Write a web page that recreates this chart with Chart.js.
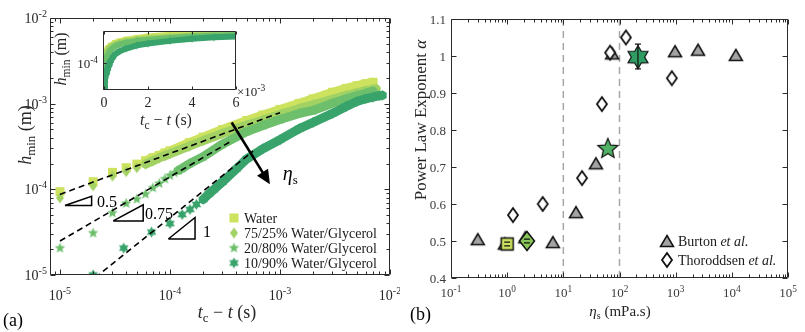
<!DOCTYPE html>
<html>
<head>
<meta charset="utf-8">
<script src="https://cdn.jsdelivr.net/npm/chart.js@4.4.1/dist/chart.umd.min.js"></script>
<style>
  body { margin: 0; background: #fff; width: 805px; height: 332px; position: relative; overflow: hidden; }
  canvas { position: absolute; }
  #main { left: 0; top: 0; }
  #inset { left: 50px; top: 10px; }
  #right { left: 400px; top: 0; }
</style>
</head>
<body>
<canvas id="main" width="400" height="332"></canvas>
<canvas id="inset" width="230" height="125"></canvas>
<canvas id="right" width="405" height="332"></canvas>
<script>
// ---------- panel (a): h_min vs t_c - t ----------
const tWater = [1e-5, 2e-5, 3e-5, 4e-5, 5e-5, 6e-5, 7e-5, 8e-5, 9e-5, 1e-4, 1.5e-4, 2e-4, 3e-4, 5e-4, 7e-4, 1e-3, 1.5e-3, 2e-3, 3e-3, 4e-3, 5e-3, 6e-3, 7e-3];
const hWater = [9.4e-5, 1.23e-4, 1.58e-4, 1.79e-4, 1.97e-4, 2.16e-4, 2.34e-4, 2.49e-4, 2.66e-4, 2.82e-4, 3.51e-4, 4.07e-4, 4.99e-4, 6.37e-4, 7.38e-4, 8.57e-4, 1.01e-3, 1.14e-3, 1.36e-3, 1.51e-3, 1.62e-3, 1.71e-3, 1.78e-3];

const t7525 = [1e-5, 2e-5, 3e-5, 4e-5, 5e-5, 6e-5, 7e-5, 8e-5, 9e-5, 1e-4, 1.5e-4, 2e-4, 3e-4, 5e-4, 7e-4, 1e-3, 1.5e-3, 2e-3, 3e-3, 4e-3, 5e-3, 6e-3, 7e-3, 7.5e-3];
const h7525 = [7.96e-5, 1.10e-4, 1.43e-4, 1.61e-4, 1.79e-4, 1.97e-4, 2.15e-4, 2.33e-4, 2.47e-4, 2.6e-4, 3.19e-4, 3.7e-4, 4.48e-4, 5.63e-4, 6.45e-4, 7.48e-4, 8.8e-4, 9.68e-4, 1.12e-3, 1.25e-3, 1.34e-3, 1.42e-3, 1.47e-3, 1.49e-3];

const t2080 = [1e-5, 2e-5, 3e-5, 4e-5, 5e-5, 6e-5, 7e-5, 8e-5, 9e-5, 1e-4, 1.1e-4, 1.2e-4, 1.3e-4, 1.5e-4, 2e-4, 3e-4, 5e-4, 7e-4, 1e-3, 1.5e-3, 2e-3, 3e-3, 4e-3, 5e-3, 6e-3, 7e-3];
const h2080 = [2.06e-5, 3.09e-5, 5.31e-5, 6.85e-5, 7.69e-5, 8.81e-5, 1.04e-4, 1.17e-4, 1.32e-4, 1.45e-4, 1.56e-4, 1.67e-4, 1.77e-4, 1.99e-4, 2.4e-4, 3.37e-4, 4.72e-4, 5.56e-4, 6.53e-4, 7.69e-4, 8.34e-4, 1.01e-3, 1.14e-3, 1.24e-3, 1.32e-3, 1.40e-3];

const t1090 = [2e-5, 3.8e-5, 6.8e-5, 1e-4, 1.29e-4, 1.52e-4, 1.74e-4, 2e-4, 2.25e-4, 2.5e-4, 3e-4, 4e-4, 5e-4, 7e-4, 1e-3, 1.5e-3, 2e-3, 3e-3, 4e-3, 5e-3, 6e-3, 7e-3, 8e-3, 8.5e-3];
const h1090 = [1.0e-5, 2.06e-5, 3.17e-5, 3.98e-5, 5.08e-5, 5.82e-5, 6.67e-5, 7.62e-5, 8.8e-5, 9.9e-5, 1.22e-4, 1.73e-4, 2.27e-4, 2.98e-4, 3.8e-4, 5.12e-4, 6.03e-4, 7.69e-4, 9.29e-4, 1.06e-3, 1.14e-3, 1.19e-3, 1.24e-3, 1.25e-3];

const seriesNames = ['Water', '75/25% Water/Glycerol', '20/80% Water/Glycerol', '10/90% Water/Glycerol'];

// dashed power-law fits (end points)
const fitT = [[1e-5, 1e-3], [1e-5, 3.63e-4], [2.09e-5, 5.7e-4]];
const fitH = [[8.73e-5, 7.85e-4], [2.49e-5, 3.67e-4], [9.3e-6, 2.8e-4]];

// slope triangles
const triT = [[1.11e-5, 1.94e-5, 1.94e-5, 1.11e-5], [3.05e-5, 5.71e-5, 5.71e-5, 3.05e-5], [9.66e-5, 1.69e-4, 1.69e-4, 9.66e-5]];
const triH = [[6.48e-5, 6.48e-5, 8.27e-5, 6.48e-5], [4.28e-5, 4.28e-5, 6.6e-5, 4.28e-5], [2.63e-5, 2.63e-5, 4.69e-5, 2.63e-5]];
const slopeLabels = ['0.5', '0.75', '1'];
const slopeLabT = [2.17e-5, 5.93e-5, 2.0e-4];
const slopeLabH = [7.28e-5, 5.26e-5, 3.24e-5];

const arrowT = [3.64e-4, 8.1e-4];
const arrowH = [6.03e-4, 1.15e-4];
const etaLabT = 1.06e-3, etaLabH = 1.51e-4;

const mainXTicks = [1e-5, 1e-4, 1e-3, 1e-2];
const mainYTicks = [1e-5, 1e-4, 1e-3, 1e-2];
const insetXTicks = [0, 0.002, 0.004, 0.006];
const insetXLabels = ['0', '2', '4', '6'];
const insetYTicks = [1e-4];

// ---------- panel (b): power law exponent vs viscosity ----------
const burtonEta = [0.3, 0.91, 2.1, 6.5, 16.8, 38, 74, 975, 2500, 11800];
const burtonAlpha = [0.505, 0.493, 0.51, 0.497, 0.578, 0.71, 1.007, 1.013, 1.017, 1.003];
const thorEta = [1.27, 4.3, 21.5, 48.6, 68, 130, 856];
const thorAlpha = [0.57, 0.60, 0.67, 0.87, 1.009, 1.05, 0.94];
const ourEta = [1.0, 2.25, 62, 213];
const ourAlpha = [0.492, 0.50, 0.749, 0.997];
const ourLo = [0.487, 0.495, 0.749, 0.965];
const ourHi = [0.497, 0.505, 0.749, 1.032];
const regimeEta = [10, 100];
const rightXTicks = [0.1, 1, 10, 100, 1000, 10000, 100000];
const rightXExp = [-1, 0, 1, 2, 3, 4, 5];
const rightYTicks = [0.4, 0.5, 0.6, 0.7, 0.8, 0.9, 1, 1.1];

// ---------- styling ----------
const SERIF = '"Liberation Serif", "DejaVu Serif", serif';
const AXIS = '#2b2b2b';
const TEXT = '#262626';
const cWater = '#cde35f', c7525 = '#a2d164', c2080 = '#6dbf6c', c1090 = '#38a36b';

function font(size, style) {
  return (style || '') + ' ' + size + 'px ' + SERIF;
}
function R(t, size, dy) { return { t: t, f: font(size), dy: dy || 0 }; }
function I(t, size, dy) { return { t: t, f: font(size, 'italic'), dy: dy || 0 }; }
function pow10(e, size) { return [R('10', size), R(String(e), size * 0.72, -size * 0.42)]; }

// draw a run of text pieces, y is the baseline
function txt(ctx, parts, x, y, align, rot, color) {
  ctx.save();
  ctx.translate(x, y);
  if (rot) ctx.rotate(rot);
  ctx.textBaseline = 'alphabetic';
  ctx.textAlign = 'left';
  ctx.fillStyle = color || TEXT;
  let w = 0;
  parts.forEach(p => { ctx.font = p.f; w += ctx.measureText(p.t).width; });
  let cx = align === 'center' ? -w / 2 : align === 'right' ? -w : 0;
  parts.forEach(p => {
    ctx.font = p.f;
    ctx.fillText(p.t, cx, p.dy);
    cx += ctx.measureText(p.t).width;
  });
  ctx.restore();
}

function makeMarker(shape, w, h, fill, stroke, lw) {
  lw = lw || 0;
  const c = document.createElement('canvas');
  c.width = Math.ceil(w + lw * 2 + 2);
  c.height = Math.ceil(h + lw * 2 + 2);
  const g = c.getContext('2d');
  const cx = c.width / 2, cy = c.height / 2, rx = w / 2, ry = h / 2;
  g.beginPath();
  if (shape === 'square') {
    g.rect(cx - rx, cy - ry, w, h);
  } else if (shape === 'diamond') {
    g.moveTo(cx, cy - ry); g.lineTo(cx + rx, cy); g.lineTo(cx, cy + ry); g.lineTo(cx - rx, cy);
  } else if (shape === 'triangle') {
    g.moveTo(cx, cy - ry); g.lineTo(cx + rx, cy + ry); g.lineTo(cx - rx, cy + ry);
  } else {
    const n = shape === 'star' ? 5 : 6;
    const inner = shape === 'star' ? 0.45 : 0.58;
    for (let i = 0; i < 2 * n; i++) {
      const r = (i % 2 ? inner : 1) * rx;
      const a = -Math.PI / 2 + i * Math.PI / n;
      g.lineTo(cx + r * Math.cos(a), cy + r * Math.sin(a));
    }
  }
  g.closePath();
  g.fillStyle = fill;
  g.fill();
  if (lw) {
    g.lineWidth = lw;
    g.strokeStyle = stroke;
    g.miterLimit = 4;
    g.stroke();
  }
  return c;
}

function pts(t, h, from, to) {
  return t.map((v, i) => ({ x: v, y: h[i] })).filter(p => p.x >= (from || 0) && p.x <= (to || Infinity));
}

function logMinor(lo, hi) {
  const out = [];
  for (let e = lo; e < hi; e++) for (let k = 2; k <= 9; k++) out.push(k * Math.pow(10, e));
  return out;
}

function drawFrame(chart, xMajor, xMinor, yMajor, yMinor, big, small) {
  const { ctx, chartArea: a, scales: { x, y } } = chart;
  const L = Math.round(a.left) + 0.5, Rr = Math.round(a.right) - 0.5;
  const T = Math.round(a.top) + 0.5, B = Math.round(a.bottom) - 0.5;
  ctx.save();
  ctx.strokeStyle = AXIS;
  ctx.lineWidth = 1;
  ctx.beginPath();
  ctx.rect(L, T, Rr - L, B - T);
  const tx = (v, len) => {
    const p = Math.round(x.getPixelForValue(v)) + 0.5;
    if (p < L - 1 || p > Rr + 1) return;
    ctx.moveTo(p, B); ctx.lineTo(p, B - len);
    ctx.moveTo(p, T); ctx.lineTo(p, T + len);
  };
  const ty = (v, len) => {
    const p = Math.round(y.getPixelForValue(v)) + 0.5;
    if (p < T - 1 || p > B + 1) return;
    ctx.moveTo(L, p); ctx.lineTo(L + len, p);
    ctx.moveTo(Rr, p); ctx.lineTo(Rr - len, p);
  };
  xMajor.forEach(v => tx(v, big));
  xMinor.forEach(v => tx(v, small));
  yMajor.forEach(v => ty(v, big));
  yMinor.forEach(v => ty(v, small));
  ctx.stroke();
  ctx.restore();
}

const base = {
  responsive: false,
  animation: false,
  devicePixelRatio: 1,
  plugins: { legend: { display: false }, tooltip: { enabled: false } }
};

// ---------- markers ----------
const mkWater = makeMarker('square', 9, 9, cWater);
const mk7525 = makeMarker('diamond', 8, 11, c7525);
const mk2080 = makeMarker('star', 11, 11, c2080);
const mk1090 = makeMarker('hexagram', 11, 11, c1090);
const smWater = makeMarker('square', 6, 6, cWater);
const sm7525 = makeMarker('diamond', 6, 8, c7525);
const sm2080 = makeMarker('star', 8, 8, c2080);
const sm1090 = makeMarker('hexagram', 8, 8, c1090);

const series = [
  { t: t1090, h: h1090, color: c1090, mk: mk1090, sm: sm1090, bandFrom: 2e-4 },
  { t: t2080, h: h2080, color: c2080, mk: mk2080, sm: sm2080, bandFrom: 1.2e-4 },
  { t: t7525, h: h7525, color: c7525, mk: mk7525, sm: sm7525, bandFrom: 6e-5 },
  { t: tWater, h: hWater, color: cWater, mk: mkWater, sm: smWater, bandFrom: 6e-5 }
];
const legendMarks = [mkWater, mk7525, mk2080, mk1090];

// ---------- main chart (a) ----------
const mainSets = [];
fitT.forEach((t, i) => mainSets.push({
  data: pts(t, fitH[i]), showLine: true, borderColor: '#000', borderWidth: 1.6,
  borderDash: [6, 4], pointRadius: 0, clip: 0
}));
triT.forEach((t, i) => mainSets.push({
  data: t.map((v, j) => ({ x: v, y: triH[i][j] })), showLine: true, borderColor: '#000',
  borderWidth: 1.5, pointRadius: 0, borderJoinStyle: 'miter'
}));
series.forEach(s => {
  mainSets.push({ data: pts(s.t, s.h), pointStyle: s.mk, pointRadius: 5 });
  mainSets.push({
    data: pts(s.t, s.h, s.bandFrom), showLine: true, borderColor: s.color, borderWidth: 9,
    borderJoinStyle: 'round', borderCapStyle: 'round', pointRadius: 0
  });
});

const mainDeco = {
  id: 'mainDeco',
  afterDatasetsDraw(chart) {
    const { ctx, chartArea: a, scales: { x, y } } = chart;
    // arrow towards increasing viscosity
    const x0 = x.getPixelForValue(arrowT[0]), y0 = y.getPixelForValue(arrowH[0]);
    const x1 = x.getPixelForValue(arrowT[1]), y1 = y.getPixelForValue(arrowH[1]);
    const ang = Math.atan2(y1 - y0, x1 - x0);
    ctx.save();
    ctx.strokeStyle = '#000';
    ctx.fillStyle = '#000';
    ctx.lineWidth = 2.6;
    ctx.beginPath();
    ctx.moveTo(x0, y0);
    ctx.lineTo(x1 - 10 * Math.cos(ang), y1 - 10 * Math.sin(ang));
    ctx.stroke();
    ctx.beginPath();
    ctx.moveTo(x1, y1);
    ctx.lineTo(x1 - 14 * Math.cos(ang) + 6.5 * Math.sin(ang), y1 - 14 * Math.sin(ang) - 6.5 * Math.cos(ang));
    ctx.lineTo(x1 - 14 * Math.cos(ang) - 6.5 * Math.sin(ang), y1 - 14 * Math.sin(ang) + 6.5 * Math.cos(ang));
    ctx.closePath();
    ctx.fill();
    ctx.restore();

    txt(ctx, [I('η', 20), R('s', 13, 4)], x.getPixelForValue(etaLabT), y.getPixelForValue(etaLabH) + 6, 'left', 0, '#000');
    slopeLabels.forEach((s, i) => {
      txt(ctx, [R(s, 16)], x.getPixelForValue(slopeLabT[i]), y.getPixelForValue(slopeLabH[i]) + 6, 'left', 0, '#000');
    });

    drawFrame(chart, mainXTicks, logMinor(-6, -2).filter(v => v > 8.1e-6), mainYTicks, logMinor(-5, -2), 5, 3);

    mainXTicks.forEach(v => txt(ctx, pow10(Math.round(Math.log10(v)), 14), x.getPixelForValue(v), a.bottom + 25, 'center'));
    mainYTicks.forEach(v => txt(ctx, pow10(Math.round(Math.log10(v)), 14), a.left - 3, y.getPixelForValue(v) + 5, 'right'));

    txt(ctx, [I('t', 18), R('c', 13, 4), R(' \u2212 ', 18), I('t', 18), R(' (s)', 18)], 227, 318, 'center');
    txt(ctx, [I('h', 18), R('min', 13, 4), R(' (m)', 18)], 31, 135, 'center', -Math.PI / 2);
    txt(ctx, [R('(a)', 18)], 3, 326, 'left', 0, '#000');

    // legend
    seriesNames.forEach((name, i) => {
      const ly = 218 + i * 15;
      const m = legendMarks[i];
      ctx.drawImage(m, 234 - m.width / 2, ly - m.height / 2);
      txt(ctx, [R(name, 14)], 244, ly + 5, 'left', 0, '#1a1a1a');
    });
  }
};

new Chart(document.getElementById('main'), {
  type: 'scatter',
  data: { datasets: mainSets },
  options: Object.assign({}, base, {
    layout: { padding: { left: 50, top: 18, right: 10, bottom: 57 } },
    scales: {
      x: { type: 'logarithmic', min: 8.12e-6, max: 1e-2, display: false },
      y: { type: 'logarithmic', min: 1e-5, max: 1e-2, display: false }
    }
  }),
  plugins: [mainDeco]
});

// ---------- inset ----------
const insetSets = [];
series.forEach(s => {
  insetSets.push({ data: pts(s.t, s.h, 0, 6.2e-3), pointStyle: s.sm, pointRadius: 4 });
  insetSets.push({
    data: pts(s.t, s.h, 0, 6.2e-3), showLine: true, borderColor: s.color, borderWidth: 6,
    borderJoinStyle: 'round', pointRadius: 0
  });
});

const insetDeco = {
  id: 'insetDeco',
  beforeDatasetsDraw(chart) {
    const { ctx, chartArea: a } = chart;
    ctx.save();
    ctx.fillStyle = '#fff';
    ctx.fillRect(a.left, a.top, a.width, a.height);
    ctx.restore();
  },
  afterDatasetsDraw(chart) {
    const { ctx, chartArea: a, scales: { x, y } } = chart;
    drawFrame(chart, insetXTicks, [], insetYTicks, [], 3, 2);
    insetXTicks.forEach((v, i) => txt(ctx, [R(insetXLabels[i], 14)], x.getPixelForValue(v), a.bottom + 17, 'center'));
    insetYTicks.forEach(v => txt(ctx, pow10(-4, 13), a.left - 5, y.getPixelForValue(v) + 5, 'right'));
    txt(ctx, [R('\u00d710', 13), R('-3', 9.5, -5.5)], a.right + 1, a.bottom + 6, 'left');
    txt(ctx, [I('t', 16), R('c', 11.5, 3.5), R(' \u2212 ', 16), I('t', 16), R(' (s)', 16)], 116, 115, 'center');
    txt(ctx, [I('h', 16), R('min', 11.5, 3.5), R(' (m)', 16)], 16, 49, 'center', -Math.PI / 2);
  }
};

new Chart(document.getElementById('inset'), {
  type: 'scatter',
  data: { datasets: insetSets },
  options: Object.assign({}, base, {
    layout: { padding: { left: 53, top: 21, right: 44, bottom: 45 } },
    scales: {
      x: { type: 'linear', min: -5e-5, max: 6e-3, display: false },
      y: { type: 'logarithmic', min: 8.5e-6, max: 1.9e-3, display: false }
    }
  }),
  plugins: [insetDeco]
});

// ---------- right chart (b) ----------
const triMark = makeMarker('triangle', 13, 11, '#a3a3a3', '#111', 1.5);
const thorMark = makeMarker('diamond', 10, 14, '#fff', '#111', 1.8);
const ourMarks = [
  makeMarker('square', 12, 12, cWater, '#111', 1.5),
  makeMarker('diamond', 15, 19, '#88c459', '#111', 1.5),
  makeMarker('star', 21, 21, '#4fb264', '#111', 1.2),
  makeMarker('hexagram', 23, 23, '#2f9c64', '#111', 1.2)
];

const rightSets = [{
  data: ourEta.map((v, i) => ({ x: v, y: ourAlpha[i] })), pointStyle: ourMarks, pointRadius: 8
}, {
  data: thorEta.map((v, i) => ({ x: v, y: thorAlpha[i] })), pointStyle: thorMark, pointRadius: 6
}, {
  data: burtonEta.map((v, i) => ({ x: v, y: burtonAlpha[i] })), pointStyle: triMark, pointRadius: 6
}];
regimeEta.forEach(v => rightSets.push({
  data: [{ x: v, y: 0.4 }, { x: v, y: 1.1 }], showLine: true, borderColor: '#a6a6a6',
  borderWidth: 1.5, borderDash: [7, 5], pointRadius: 0
}));

const rightDeco = {
  id: 'rightDeco',
  afterDatasetsDraw(chart) {
    const { ctx, chartArea: a, scales: { x, y } } = chart;
    // error bars of our measurements (tiny ones show only the caps)
    ctx.save();
    ctx.strokeStyle = '#111';
    ctx.lineWidth = 1.2;
    ourEta.forEach((v, i) => {
      if (ourHi[i] - ourLo[i] <= 0) return;
      const px = x.getPixelForValue(v);
      const lo = y.getPixelForValue(ourLo[i]), hi = y.getPixelForValue(ourHi[i]);
      const cap = 3;
      ctx.beginPath();
      if (lo - hi > 6) { ctx.moveTo(px, lo); ctx.lineTo(px, hi); }
      ctx.moveTo(px - cap, lo); ctx.lineTo(px + cap, lo);
      ctx.moveTo(px - cap, hi); ctx.lineTo(px + cap, hi);
      ctx.stroke();
    });
    ctx.restore();

    drawFrame(chart, rightXTicks, logMinor(-1, 5), rightYTicks, [], 5, 3);
    rightXTicks.forEach((v, i) => txt(ctx, pow10(rightXExp[i], 13), x.getPixelForValue(v), a.bottom + 19, 'center', 0, '#3a3a3a'));
    rightYTicks.forEach(v => txt(ctx, [R(String(v), 13)], a.left - 5, y.getPixelForValue(v) + 4.5, 'right', 0, '#3a3a3a'));

    txt(ctx, [I('\u03b7', 15), R('s', 10, 3), R(' (mPa.s)', 15)], 220, 316, 'center');
    txt(ctx, [R('Power Law Exponent ', 17), I('\u03b1', 17)], 26, 120, 'center', -Math.PI / 2);
    txt(ctx, [R('(b)', 18)], 10, 320, 'left', 0, '#000');

    // legend
    const lx = 267;
    ctx.drawImage(triMark, lx - triMark.width / 2, 241 - triMark.height / 2);
    txt(ctx, [R('Burton ', 14), I('et al.', 14)], lx + 11, 246, 'left', 0, '#1a1a1a');
    ctx.drawImage(thorMark, lx - thorMark.width / 2, 260 - thorMark.height / 2);
    txt(ctx, [R('Thoroddsen ', 14), I('et al.', 14)], lx + 11, 265, 'left', 0, '#1a1a1a');
  }
};

new Chart(document.getElementById('right'), {
  type: 'scatter',
  data: { datasets: rightSets },
  options: Object.assign({}, base, {
    layout: { padding: { left: 51, top: 19, right: 17, bottom: 54 } },
    scales: {
      x: { type: 'logarithmic', min: 0.1, max: 1e5, display: false },
      y: { type: 'linear', min: 0.4, max: 1.1, display: false }
    }
  }),
  plugins: [rightDeco]
});
</script>
</body>
</html>
